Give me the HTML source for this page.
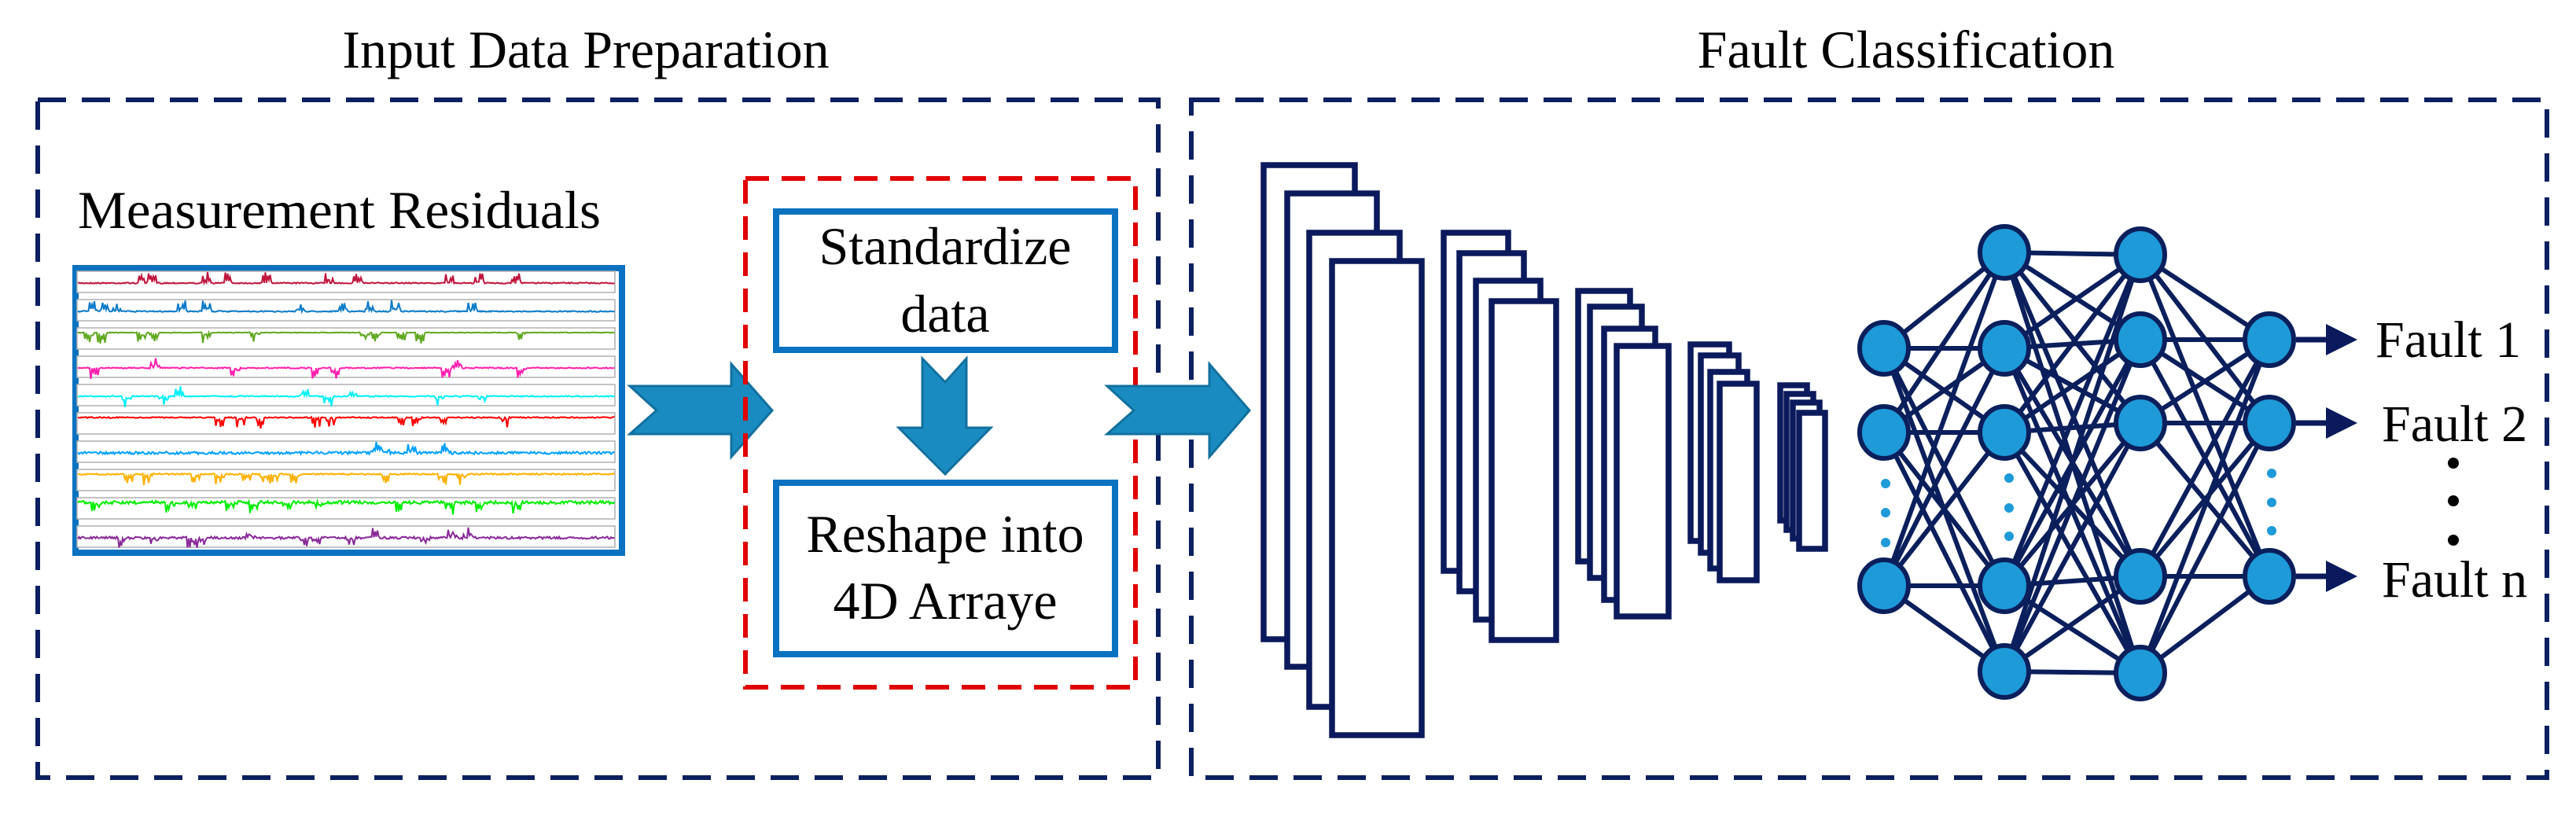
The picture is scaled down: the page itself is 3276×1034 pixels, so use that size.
<!DOCTYPE html>
<html><head><meta charset="utf-8"><style>
html,body{margin:0;padding:0;background:#fff;}
svg{display:block;}
text{font-family:"Liberation Serif",serif;fill:#000;}
</style></head><body>
<svg id="s" width="3276" height="1034" viewBox="0 0 3276 1034" xmlns="http://www.w3.org/2000/svg">
<rect width="3276" height="1034" fill="#fff"/>
<text x="745" y="86" font-size="68" text-anchor="middle">Input Data Preparation</text>
<text x="2424" y="86" font-size="68" text-anchor="middle">Fault Classification</text>
<rect x="48" y="127" width="1425" height="862" fill="none" stroke="#0b2060" stroke-width="6" stroke-dasharray="36,20"/>
<rect x="1515" y="127" width="1724" height="862" fill="none" stroke="#0b2060" stroke-width="6" stroke-dasharray="36,20"/>
<text x="99" y="290" font-size="68" textLength="665" lengthAdjust="spacingAndGlyphs">Measurement Residuals</text>
<rect x="96" y="341" width="695" height="362" fill="#fff" stroke="#0a72c0" stroke-width="8"/>
<g id="strips"></g>
<polygon points="801,491 930,491 930,463 982,522 930,581 930,552 801,552 835,522" fill="#1a8bc0" stroke="#11709e" stroke-width="3"/>
<rect x="948" y="227" width="496" height="647" fill="none" stroke="#e00000" stroke-width="6" stroke-dasharray="30,16"/>
<rect x="987" y="269" width="431" height="176" fill="#fff" stroke="#0a72c0" stroke-width="8"/>
<text x="1202" y="336" font-size="68" text-anchor="middle">Standardize</text>
<text x="1202" y="422" font-size="68" text-anchor="middle">data</text>
<polygon points="1173,456 1202,486 1229,456 1229,544 1260,544 1202,603 1143,544 1173,544" fill="#1a8bc0" stroke="#11709e" stroke-width="3"/>
<rect x="987" y="614" width="431" height="218" fill="#fff" stroke="#0a72c0" stroke-width="8"/>
<text x="1202" y="702" font-size="68" text-anchor="middle">Reshape into</text>
<text x="1202" y="787" font-size="68" text-anchor="middle">4D Arraye</text>
<polygon points="1408,491 1538,491 1538,463 1589,522 1538,581 1538,552 1408,552 1442,522" fill="#1a8bc0" stroke="#11709e" stroke-width="3"/>
<g fill="#fff" stroke="#0b1a5c" stroke-width="7.5">
<rect x="1607" y="210" width="116" height="603"/>
<rect x="1637" y="246" width="114" height="602"/>
<rect x="1665" y="296" width="115" height="603"/>
<rect x="1694" y="332" width="114" height="603"/>
<rect x="1836" y="296" width="82" height="430"/>
<rect x="1856" y="322" width="82" height="430"/>
<rect x="1877" y="357" width="82" height="431"/>
<rect x="1897" y="383" width="82" height="431"/>
<rect x="2007" y="370" width="66" height="344"/>
<rect x="2022" y="390" width="66" height="345"/>
<rect x="2040" y="418" width="65" height="345"/>
<rect x="2056" y="440" width="66" height="344"/>
<rect x="2150" y="438" width="49" height="250"/>
<rect x="2163" y="452" width="48" height="251"/>
<rect x="2175" y="473" width="47" height="250"/>
<rect x="2187" y="488" width="47" height="250"/>
<rect x="2264" y="490" width="34" height="172"/>
<rect x="2272" y="501" width="34" height="173"/>
<rect x="2280" y="512" width="34" height="173"/>
<rect x="2288" y="525" width="33" height="173"/>
</g>
<g id="nn"></g>
<g fill="#0b1a5c">
<polygon points="2958,412 2998,432 2958,452"/>
<polygon points="2958,518 2998,538 2958,558"/>
<polygon points="2958,713 2998,733 2958,753"/>
</g>
<g stroke="#0b1a5c" stroke-width="7">
<line x1="2920" y1="432" x2="2962" y2="432"/>
<line x1="2920" y1="538" x2="2962" y2="538"/>
<line x1="2920" y1="733" x2="2962" y2="733"/>
</g>
<text x="3021" y="454" font-size="66">Fault 1</text>
<text x="3029" y="561" font-size="66">Fault 2</text>
<text x="3029" y="759" font-size="66">Fault n</text>
<circle cx="3120" cy="589" r="7" fill="#000"/>
<circle cx="3120" cy="637" r="7" fill="#000"/>
<circle cx="3120" cy="687" r="7" fill="#000"/>
</svg>
<script>
(function(){
var NS="http://www.w3.org/2000/svg";
function el(n,a,p){var e=document.createElementNS(NS,n);for(var k in a)e.setAttribute(k,a[k]);p.appendChild(e);return e;}
var seed=7;function r(){seed=(seed*16807)%2147483647;return seed/2147483647;}
var g=document.getElementById('strips');
var cols=["#c0143c","#0a7ac8","#60a820","#ff20b0","#00f0f8","#ff0000","#00a0ff","#ffb000","#00ee00","#8a2a9a"];
var dir=[1,1,-1,0,0,-1,1,-1,-1,0];
var noise=[1.5,1.5,0.8,1.5,1.5,1.5,3.5,1.8,4,3];
var x0=98,x1=782,top=345,h=36;
for(var i=0;i<10;i++){
 var y=top+i*h;
 el('rect',{x:x0,y:y,width:x1-x0,height:27,fill:'#fff',stroke:'#b0b0b0','stroke-width':1.5},g);
 var base=y+(dir[i]<0?6:15);
 var pts=[];var burst=0,bd=1;
 for(var x=x0+1;x<x1;x+=1.5){
  var v=(r()-0.5)*noise[i];
  var p=(x-x0)/(x1-x0);
  if(burst<=0 && p<0.82 && r()<0.025){burst=8;bd=dir[i]; if(bd==0) bd=r()<0.5?1:-1;}
  if(burst>0){burst--; v+= -bd*(r()*14)*(burst%2?1:0.3);}
  pts.push(x.toFixed(1)+","+(base+v).toFixed(1));
 }
 el('polyline',{points:pts.join(' '),fill:'none',stroke:cols[i],'stroke-width':2},g);
}
var nn=document.getElementById('nn');
var L=[[2396,[443,550,745]],[2549,[321,443,550,745,854]],[2722,[324,432,538,733,856]],[2886,[432,538,733]]];
for(var l=0;l<3;l++){var a=L[l],b=L[l+1];
 for(var i=0;i<a[1].length;i++)for(var j=0;j<b[1].length;j++)
  el('line',{x1:a[0],y1:a[1][i],x2:b[0],y2:b[1][j],stroke:'#0b1f5c','stroke-width':6},nn);}
for(var l=0;l<4;l++){var a=L[l];for(var i=0;i<a[1].length;i++)
 el('ellipse',{cx:a[0],cy:a[1][i],rx:31,ry:33,fill:'#1e9ad8',stroke:'#0b1f5c','stroke-width':6},nn);}
var dots=[[2398,[615,652,690]],[2555,[608,646,682]],[2889,[602,639,675]]];
dots.forEach(function(d){d[1].forEach(function(y){el('circle',{cx:d[0],cy:y,r:6,fill:'#1e9ad8'},nn);});});
})();
</script>
</body></html>
